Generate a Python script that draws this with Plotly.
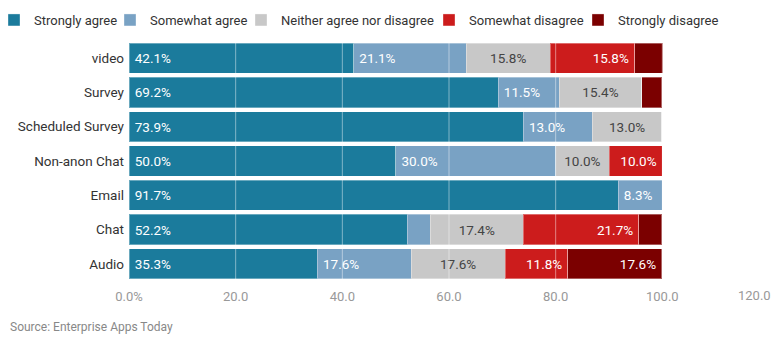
import plotly.graph_objects as go

categories = ["video", "Survey", "Scheduled Survey", "Non-anon Chat", "Email", "Chat", "Audio"]
strongly_agree = [42.1, 69.2, 73.9, 50.0, 91.7, 52.2, 35.3]
somewhat_agree = [21.1, 11.5, 13.0, 30.0, 8.3, 4.3, 17.6]
neither = [15.8, 15.4, 13.0, 10.0, 0.0, 17.4, 17.6]
somewhat_disagree = [15.8, 0.0, 0.0, 10.0, 0.0, 21.7, 11.8]
strongly_disagree = [5.3, 3.8, 0.0, 0.0, 0.0, 4.3, 17.6]

tick_vals = [0, 20, 40, 60, 80, 100, 120]
tick_text = ["0.0%", "20.0", "40.0", "60.0", "80.0", "100.0", "120.0"]

series = [
    ("Strongly agree", strongly_agree, "#1b7b9c", "white", "start"),
    ("Somewhat agree", somewhat_agree, "#79a2c4", "white", "start"),
    ("Neither agree nor disagree", neither, "#c8c8c8", "#444444", "middle"),
    ("Somewhat disagree", somewhat_disagree, "#cc1c1c", "white", "end"),
    ("Strongly disagree", strongly_disagree, "#7b0000", "white", "end"),
]
# left edge (page pixels) of each legend entry
legend_left_px = [-6, 110, 241, 429, 578]

FONT = "Roboto, Arial, sans-serif"
ML, MT = 129, 41
PLOT_W, PLOT_H = 640, 240

fig = go.Figure()
legend_layouts = {}
for i, (name, vals, color, tcolor, anchor) in enumerate(series):
    lname = "legend" if i == 0 else f"legend{i + 1}"
    fig.add_trace(go.Bar(
        name=name,
        y=categories,
        x=vals,
        orientation="h",
        legend=lname,
        marker=dict(color=color, line=dict(color="rgba(255,255,255,0.35)", width=1)),
        text=[f"\u2009{v:.1f}%\u2009" if v >= 8 else "" for v in vals],
        textposition="inside",
        insidetextanchor=anchor,
        textfont=dict(color=tcolor, size=13.5, family=FONT),
        constraintext="none",
        hoverinfo="skip",
    ))
    legend_layouts[lname] = dict(
        orientation="h", x=(legend_left_px[i] - ML) / PLOT_W, y=1 + 36 / PLOT_H,
        xanchor="left", yanchor="top", font=dict(size=13, color="#333333"),
        itemwidth=30, borderwidth=0, bgcolor="rgba(0,0,0,0)")

shapes = []
for tv in tick_vals[1:-1]:
    shapes.append(dict(type="line", xref="x", yref="paper", x0=tv, x1=tv, y0=0, y1=1,
                       line=dict(color="rgba(255,255,255,0.45)", width=1), layer="above"))

annotations = [
    dict(text="Source: Enterprise Apps Today", xref="paper", yref="paper",
         x=-121 / PLOT_W, y=-46 / PLOT_H, xanchor="left", yanchor="middle", showarrow=False,
         font=dict(size=12, color="#888888")),
    # last tick label, kept inside the page like in the reference
    dict(text=tick_text[-1], xref="x", yref="paper", x=tick_vals[-1], y=0,
         xanchor="right", yanchor="top", yshift=-5, xshift=4, showarrow=False,
         font=dict(size=13, color="#999999")),
]

fig.update_layout(
    barmode="stack",
    bargap=0.12,
    width=781,
    height=350,
    margin=dict(l=ML, r=12, t=MT, b=69, autoexpand=False),
    paper_bgcolor="white",
    plot_bgcolor="white",
    font=dict(family=FONT, size=13, color="#333333"),
    showlegend=True,
    shapes=shapes,
    annotations=annotations,
    **legend_layouts,
)
fig.update_xaxes(range=[0, 120], tickvals=tick_vals[:-1], ticktext=tick_text[:-1],
                 showgrid=False, zeroline=False, showline=False,
                 tickfont=dict(size=13, color="#999999"), ticks="",
                 ticklabelstandoff=6)
fig.update_yaxes(autorange="reversed", showgrid=False, zeroline=False, showline=False,
                 tickfont=dict(size=13.5, color="#333333"), ticks="",
                 ticklabelstandoff=4)

fig.write_html("out.html")
